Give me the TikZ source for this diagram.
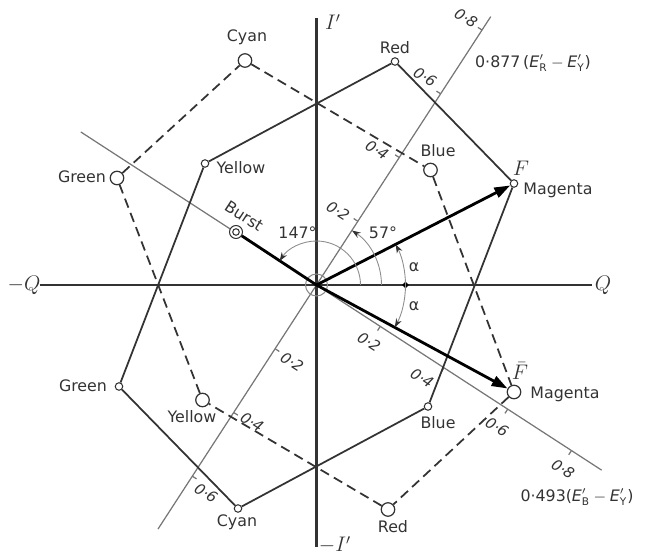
\documentclass[tikz,border=0pt]{standalone}
\usepackage{fontspec}
\setmainfont{DejaVu Sans}
\usetikzlibrary{arrows.meta,shapes.geometric}
\definecolor{ink}{HTML}{333333}
\definecolor{axisgrey}{HTML}{767676}
\definecolor{arcgrey}{HTML}{8C8C8C}

\begin{document}
\begin{tikzpicture}[line width=0.6pt,
  mainaxis/.style={draw=ink, line width=1.2pt},
  scaleaxis/.style={draw=axisgrey, line width=0.7pt},
  hexside/.style={draw=ink, line width=1pt},
  dashside/.style={hexside, dash pattern=on 5.5pt off 3.2pt},
  fullpt/.style={circle, draw=ink, fill=white, line width=0.6pt, inner sep=0pt, minimum size=0.15cm},
  halfpt/.style={circle, draw=ink, fill=white, line width=0.7pt, inner sep=0pt, minimum size=0.27cm},
  vec/.style={draw=black, line width=1.6pt},
  anglearc/.style={draw=arcgrey, line width=0.5pt, -{Stealth[length=5pt, width=3.5pt, color=ink]}},
  lbl/.style={font=\fontsize{9}{10}\selectfont, text=ink, inner sep=0.5pt},
  scalelbl/.style={lbl, font=\fontsize{8.5}{10}\selectfont\itshape, rotate=-33},
]
  \useasboundingbox (-6.33,-5.38) rectangle (6.63,5.70);

  % scale axes 0.877(R-Y) and 0.493(B-Y)
  \coordinate (rytop) at (3.485,5.368);
  \coordinate (rybot) at (-3.170,-4.881);
  \coordinate (bytop) at (-4.714,3.061);
  \coordinate (bybot) at (5.703,-3.703);
  \draw[scaleaxis] (rybot) -- (rytop);
  \draw[scaleaxis] (bytop) -- (bybot);
  \draw[scaleaxis] (0.828,1.275) -- ++(-0.084,0.054);
  \draw[scaleaxis] (1.656,2.550) -- ++(-0.084,0.054);
  \draw[scaleaxis] (2.483,3.824) -- ++(-0.084,0.054);
  \draw[scaleaxis] (3.311,5.099) -- ++(-0.084,0.054);
  \draw[scaleaxis] (-0.828,-1.275) -- ++(0.084,-0.054);
  \draw[scaleaxis] (-1.656,-2.550) -- ++(0.084,-0.054);
  \draw[scaleaxis] (-2.483,-3.824) -- ++(0.084,-0.054);
  \draw[scaleaxis] (1.275,-0.828) -- ++(-0.054,-0.084);
  \draw[scaleaxis] (2.550,-1.656) -- ++(-0.054,-0.084);
  \draw[scaleaxis] (3.824,-2.483) -- ++(-0.054,-0.084);
  \draw[scaleaxis] (5.099,-3.311) -- ++(-0.054,-0.084);
  \node[scalelbl] (ry2) at (0.43,1.48) {0·2};
  \node[scalelbl] (ry4) at (1.21,2.70) {0·4};
  \node[scalelbl] (ry6) at (2.17,4.16) {0·6};
  \node[scalelbl] (ry8) at (2.99,5.34) {0·8};
  \node[scalelbl] (rym2) at (-0.49,-1.54) {0·2};
  \node[scalelbl] (rym4) at (-1.29,-2.74) {0·4};
  \node[scalelbl] (rym6) at (-2.21,-4.16) {0·6};
  \node[scalelbl] (by2) at (1.05,-1.14) {0·2};
  \node[scalelbl] (by4) at (2.11,-1.86) {0·4};
  \node[scalelbl] (by6) at (3.61,-2.84) {0·6};
  \node[scalelbl] (by8) at (4.93,-3.68) {0·8};
  \node[lbl] (rylbl) at (4.33,4.44) {0·877\,($\mathit{E}'_{\mathrm{R}}-\mathit{E}'_{\mathrm{Y}}$)};
  \node[lbl] (bylbl) at (5.21,-4.24) {0·493($\mathit{E}'_{\mathrm{B}}-\mathit{E}'_{\mathrm{Y}}$)};

  % I' and Q axes
  \coordinate (qw) at (-5.53,0);
  \coordinate (qe) at (5.51,0);
  \coordinate (in) at (0,5.34);
  \coordinate (is) at (0,-5.24);
  \draw[mainaxis] (qw) -- (qe);
  \draw[mainaxis] (is) -- (in);
  \node[lbl, font=\large] (qwlbl) at (-5.85,0) {$-Q$};
  \node[lbl, font=\large] (qelbl) at (5.73,0) {$Q$};
  \node[lbl, font=\large] (inlbl) at (0.33,5.26) {$I'$};
  \node[lbl, font=\large] (islbl) at (0.37,-5.20) {$-I'$};
  \node[circle, draw=arcgrey, line width=0.6pt, minimum size=0.44cm, inner sep=0pt] (o) at (0,0) {};

  % colour points, F line
  \node[fullpt] (red) at (1.57,4.47) {};
  \node[fullpt] (magF) at (3.95,2.03) {};
  \node[fullpt] (blue) at (2.23,-2.43) {};
  \node[fullpt] (cyan) at (-1.57,-4.47) {};
  \node[fullpt] (green) at (-3.95,-2.03) {};
  \node[fullpt] (yellow) at (-2.23,2.43) {};
  \draw[hexside] (red) -- (magF) -- (blue) -- (cyan) -- (green) -- (yellow) -- (red);

  % colour points, F-bar line
  \node[halfpt] (cyanB) at (-1.43,4.49) {};
  \node[halfpt] (blueB) at (2.28,2.30) {};
  \node[halfpt] (magB) at (3.95,-2.14) {};
  \node[halfpt] (redB) at (1.43,-4.49) {};
  \node[halfpt] (yellowB) at (-2.28,-2.30) {};
  \node[halfpt] (greenB) at (-3.99,2.14) {};
  \draw[dashside] (cyanB) -- (blueB) -- (magB) -- (redB) -- (yellowB) -- (greenB) -- (cyanB);

  \node[lbl] (redlbl) at (1.57,4.74) {Red};
  \node[lbl, font=\large] (flbl) at (4.09,2.34) {$F$};
  \node[lbl] (maglbl) at (4.83,1.90) {Magenta};
  \node[lbl] (bluelbl) at (2.43,-2.76) {Blue};
  \node[lbl] (cyanlbl) at (-1.59,-4.74) {Cyan};
  \node[lbl] (greenlbl) at (-4.67,-2.02) {Green};
  \node[lbl] (yellowlbl) at (-1.51,2.34) {Yellow};
  \node[lbl] (cyanBlbl) at (-1.39,4.96) {Cyan};
  \node[lbl] (blueBlbl) at (2.43,2.68) {Blue};
  \node[lbl, font=\large] (fblbl) at (4.07,-1.72) {$\bar{F}$};
  \node[lbl] (magBlbl) at (4.97,-2.18) {Magenta};
  \node[lbl] (redBlbl) at (1.53,-4.84) {Red};
  \node[lbl] (yellowBlbl) at (-2.49,-2.64) {Yellow};
  \node[lbl] (greenBlbl) at (-4.69,2.16) {Green};

  % burst and vectors
  \node[circle, draw=ink, fill=white, line width=0.6pt, minimum size=0.26cm, inner sep=0pt] (burst) at (-1.61,1.06) {};
  \draw[draw=ink, line width=0.6pt] (burst.center) circle (0.065);
  \node[lbl, inner sep=0pt, rotate=-33] (burstlbl) at (-1.45,1.38) {Burst};
  \draw[vec] (burst) -- (o.center);
  \draw[vec, -{Triangle[length=9pt, width=6pt]}] (o.center) -- (magF);
  \draw[vec, -{Triangle[length=9pt, width=6pt]}] (o.center) -- (magB);

  % angles
  \draw[anglearc] (0.88,0) arc[start angle=0, end angle=147, radius=0.88];
  \draw[anglearc] (1.30,0) arc[start angle=0, end angle=57, radius=1.30];
  \node[diamond, fill=black, inner sep=0pt, minimum size=0.14cm] (adot) at (1.78,0) {};
  \draw[anglearc] (adot.center) arc[start angle=0, end angle=27.2, radius=1.78];
  \draw[anglearc] (adot.center) arc[start angle=0, end angle=-28.4, radius=1.78];
  \node[lbl] (a147) at (-0.38,1.04) {147°};
  \node[lbl] (a57) at (1.33,1.04) {57°};
  \node[lbl] (alpha1) at (1.95,0.36) {α};
  \node[lbl] (alpha2) at (1.95,-0.42) {α};
\end{tikzpicture}
\end{document}
